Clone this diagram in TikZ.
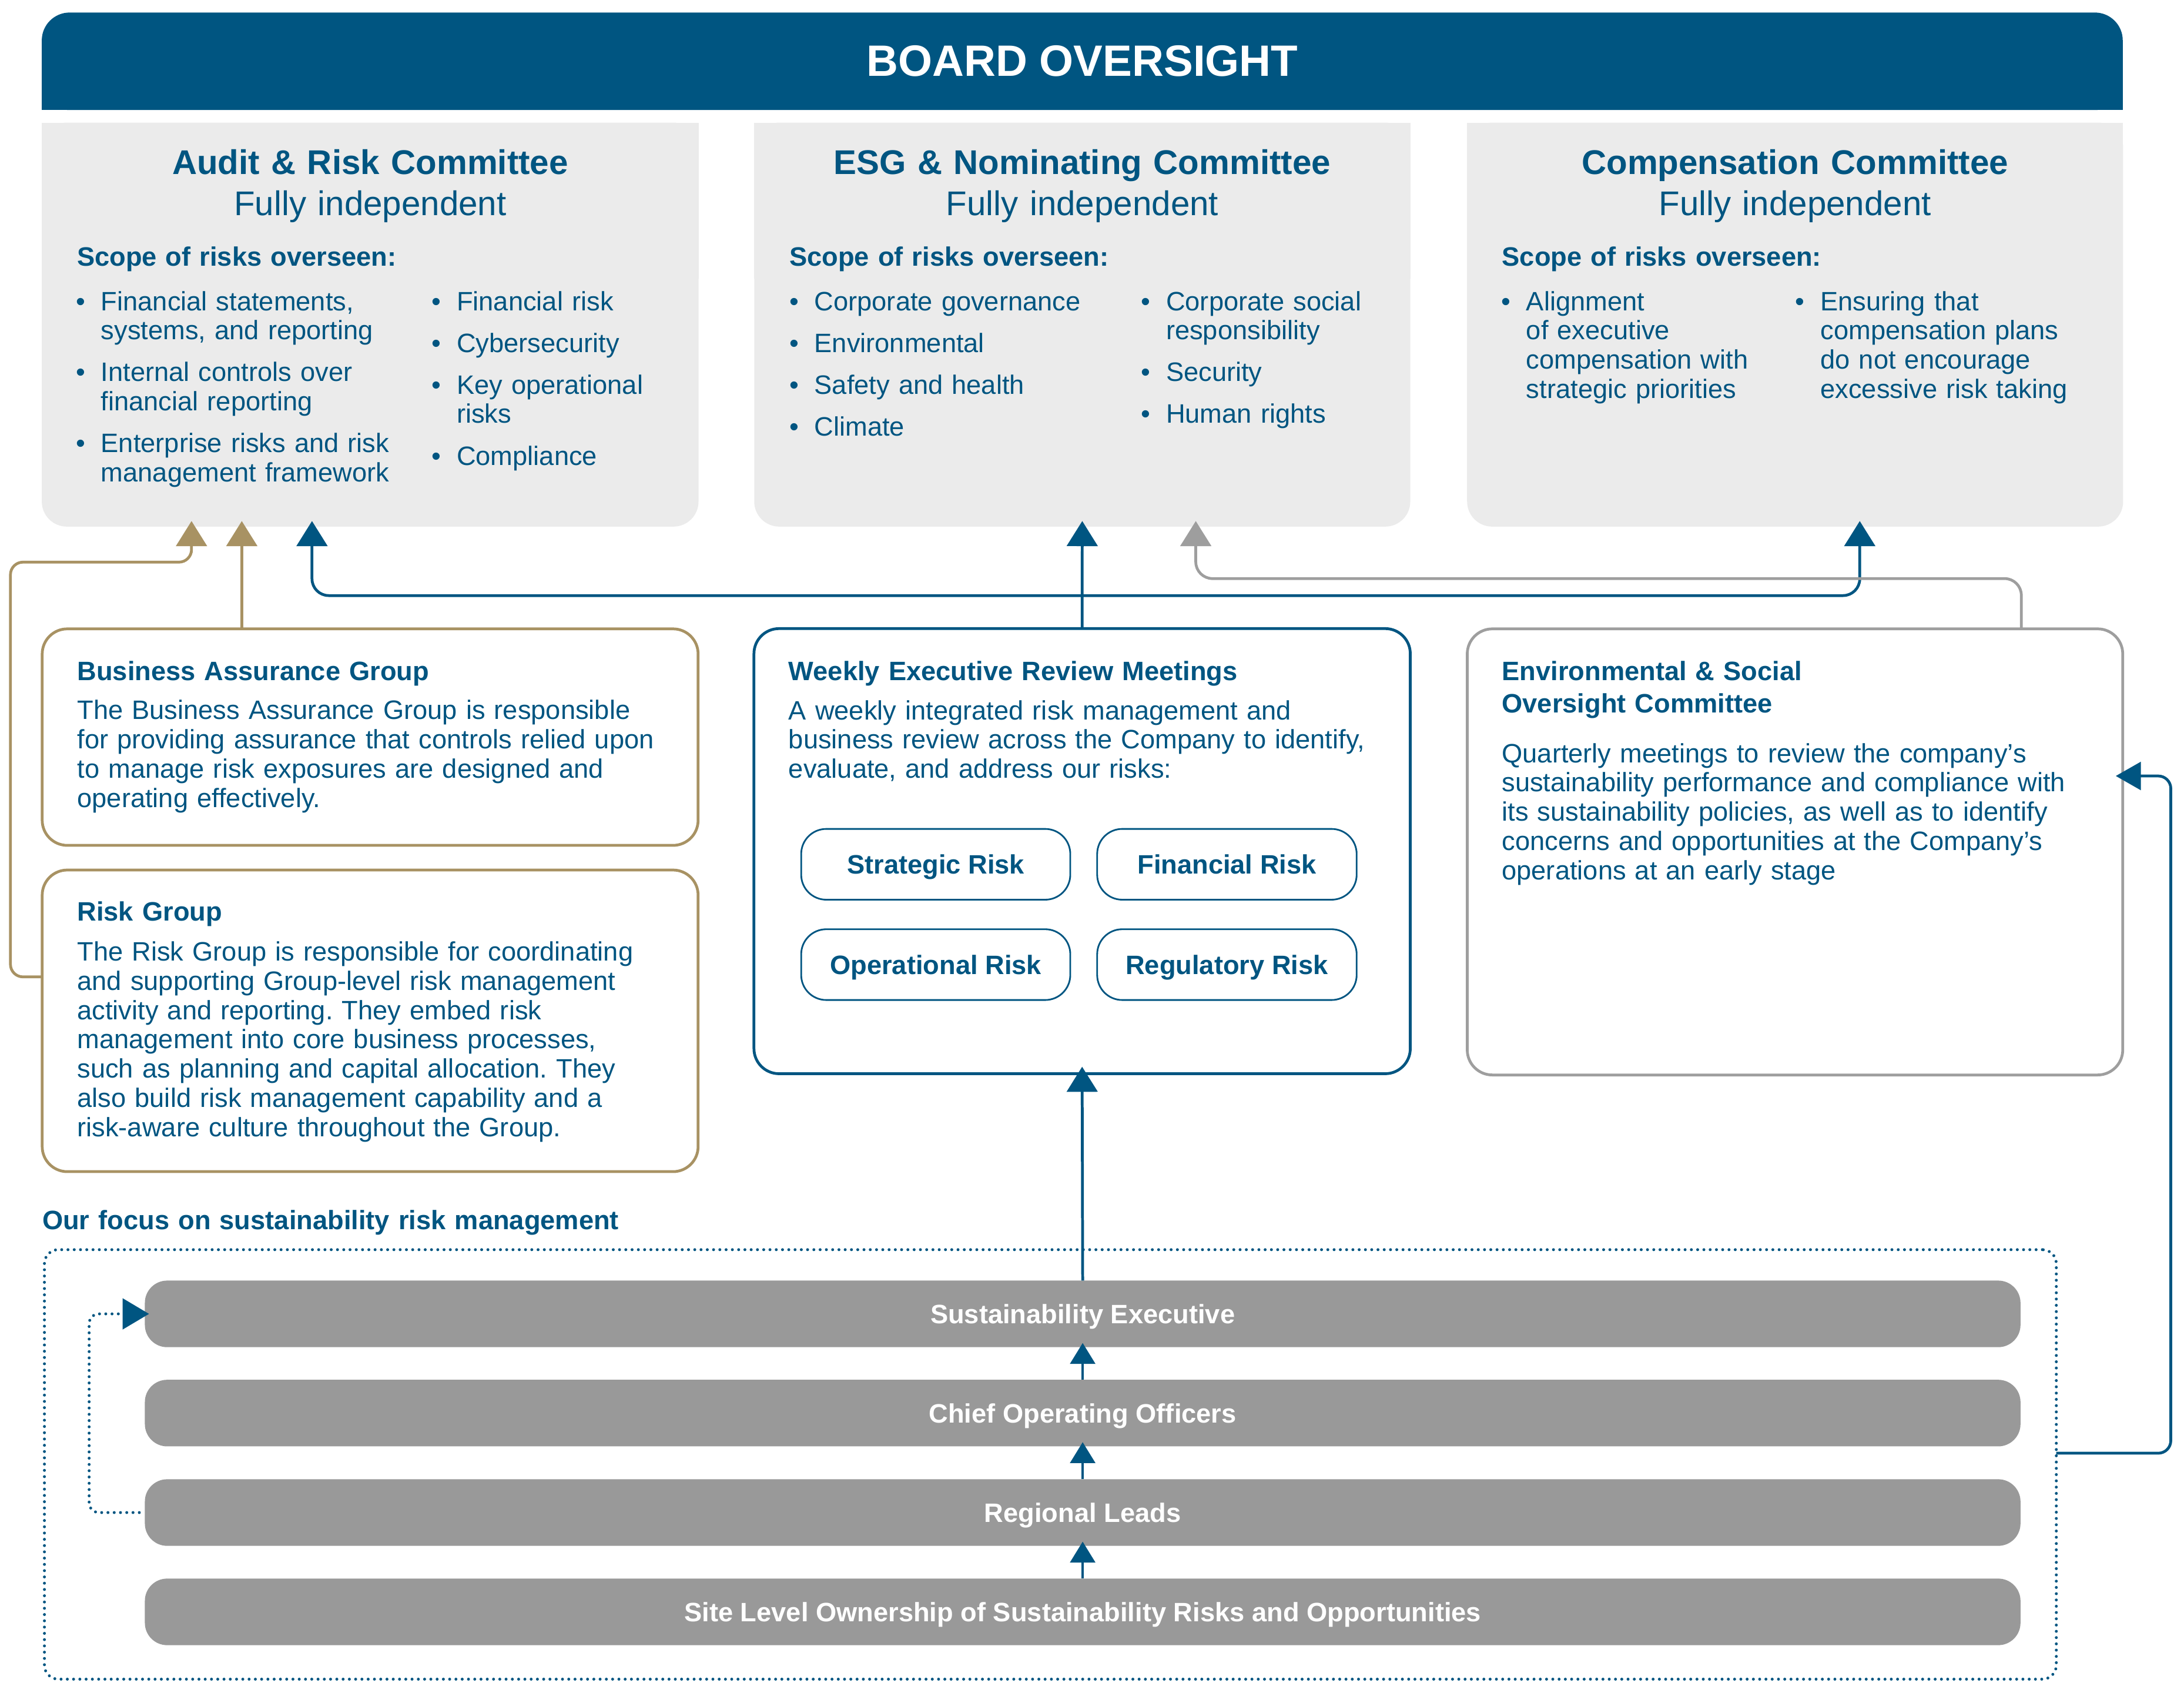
\documentclass[tikz,border=0pt]{standalone}
\usepackage{fontspec}
\setmainfont{Liberation Sans}
\usetikzlibrary{arrows.meta,calc}
\definecolor{dblue}{RGB}{0,85,129}
\definecolor{tanc}{RGB}{168,146,99}
\definecolor{lgrey}{RGB}{235,235,235}
\definecolor{bgrey}{RGB}{153,153,153}
\definecolor{mgrey}{RGB}{158,158,158}
\newcommand{\bodyfont}{\fontsize{19.1}{21}\selectfont}
\newcommand{\headfont}{\fontsize{24.6}{29.6}\selectfont}
\newcommand{\bitem}{\makebox[18pt][l]{\textbullet}}
\newcommand{\bind}{\hspace*{18pt}}
\frenchspacing
\begin{document}
\begin{tikzpicture}[x=1pt,y=-1pt,
  txt/.style={anchor=base west, inner sep=0pt, outer sep=0pt, align=left, text width=470pt, font=\bodyfont, text=dblue},
  btxt/.style={txt, font=\bodyfont\bfseries},
  head/.style={anchor=base, inner sep=0pt, outer sep=0pt, align=center, text width=460pt, font=\headfont, text=dblue},
  panel/.style={inner sep=0pt, outer sep=0pt, anchor=north west, line width=2pt, rounded corners=18pt},
  tanbox/.style={panel, draw=tanc},
  bluebox/.style={panel, draw=dblue},
  greybox/.style={panel, draw=mgrey},
  riskbtn/.style={draw=dblue, line width=1.2pt, rounded corners=18pt, inner sep=0pt, outer sep=0pt, anchor=north west,
     minimum height=50.8pt, font=\bodyfont\bfseries, text=dblue, text height=14pt, text depth=0pt},
  bar/.style={fill=bgrey, rounded corners=16pt, inner sep=0pt, outer sep=0pt, anchor=north west,
     minimum width=1346.6pt, minimum height=47.8pt, font=\bodyfont\bfseries, text=white, text height=14pt, text depth=0pt},
  blueln/.style={draw=dblue, line width=2pt, -{Triangle[width=22pt,length=18pt]}},
  tanln/.style={draw=tanc, line width=2pt, -{Triangle[width=22pt,length=18pt]}},
  greyln/.style={draw=mgrey, line width=2pt, -{Triangle[width=22pt,length=18pt]}},
  smallarr/.style={draw=dblue, line width=1.6pt, -{Triangle[width=18pt,length=15pt]}},
  dotted line/.style={draw=dblue, line width=2.1pt, line cap=round, dash pattern=on 0pt off 4.5pt},
  dotln/.style={dotted line, -{Triangle[width=22pt,length=19pt]}},
]
\useasboundingbox (0,0) rectangle (1568,1215.2);

% ---------- Board banner ----------
\fill[dblue, rounded corners=20pt] (30,9) rectangle (1524,79);
\fill[dblue] (30,45) rectangle (1524,79);
\node[inner sep=0pt, text=white, font=\fontsize{31.5}{36}\selectfont\bfseries] (board) at (777,44) {BOARD OVERSIGHT};

% ---------- Committee panels ----------
\foreach \xa/\xb in {30/501.5, 541.5/1012.5, 1053.3/1524.3}{
  \fill[lgrey, rounded corners=18pt] (\xa,88) rectangle (\xb,378);
  \fill[lgrey] (\xa,88) rectangle (\xb,200);
}
\node[head] (audh) at (265.8,125) {\textbf{Audit \& Risk Committee}\\Fully independent};
\node[head] (esgh) at (777,125) {\textbf{ESG \& Nominating Committee}\\Fully independent};
\node[head] (comh) at (1288.7,125) {\textbf{Compensation Committee}\\Fully independent};

\node[btxt] (auds) at (55.3,191) {Scope of risks overseen:};
\node[btxt] (esgs) at (566.8,191) {Scope of risks overseen:};
\node[btxt] (coms) at (1078.4,191) {Scope of risks overseen:};

\node[txt] (audl) at (54.5,222.8) {\bitem Financial statements,\\ \bind systems, and reporting\\[9pt]
  \bitem Internal controls over\\ \bind financial reporting\\[9pt]
  \bitem Enterprise risks and risk\\ \bind management framework};
\node[txt] (audr) at (309.9,222.8) {\bitem Financial risk\\[9pt] \bitem Cybersecurity\\[9pt]
  \bitem Key operational\\ \bind risks\\[9pt] \bitem Compliance};
\node[txt] (esgl) at (566.7,222.8) {\bitem Corporate governance\\[9pt] \bitem Environmental\\[9pt]
  \bitem Safety and health\\[9pt] \bitem Climate};
\node[txt] (esgr) at (819.2,222.8) {\bitem Corporate social\\ \bind responsibility\\[9pt]
  \bitem Security\\[9pt] \bitem Human rights};
\node[txt] (coml) at (1077.8,222.8) {\bitem Alignment\\ \bind of executive\\ \bind compensation with\\ \bind strategic priorities};
\node[txt] (comr) at (1289,222.8) {\bitem Ensuring that\\ \bind compensation plans\\ \bind do not encourage\\ \bind excessive risk taking};

% arrow targets on committee panels
\coordinate (auA) at (137.5,374);
\coordinate (auB) at (173.6,374);
\coordinate (auC) at (224,374);
\coordinate (esA) at (777,374);
\coordinate (esB) at (858.5,374);
\coordinate (coA) at (1335.2,374);

% ---------- Middle row boxes ----------
\node[tanbox, minimum width=470.9pt, minimum height=155.4pt] (ba) at (30.3,451.4) {};
\node[btxt] (bat) at (55.5,488.3) {Business Assurance Group};
\node[txt] (bab) at (55.5,516.4) {The Business Assurance Group is responsible\\
for providing assurance that controls relied upon\\
to manage risk exposures are designed and\\
operating effectively.};

\node[tanbox, minimum width=470.9pt, minimum height=216.5pt] (rg) at (30.3,624.5) {};
\node[btxt] (rgt) at (55.5,660.8) {Risk Group};
\node[txt] (rgb) at (55.5,689.7) {The Risk Group is responsible for coordinating\\
and supporting Group-level risk management\\
activity and reporting. They embed risk\\
management into core business processes,\\
such as planning and capital allocation. They\\
also build risk management capability and a\\
risk-aware culture throughout the Group.};

\node[bluebox, minimum width=471.2pt, minimum height=319.5pt] (wk) at (541.3,451.2) {};
\node[btxt] (wkt) at (566.2,488.5) {Weekly Executive Review Meetings};
\node[txt] (wkb) at (566.2,516.5) {A weekly integrated risk management and\\
business review across the Company to identify,\\
evaluate, and address our risks:};
\node[riskbtn, minimum width=193.2pt] (r1) at (575.2,595) {Strategic Risk};
\node[riskbtn, minimum width=186.3pt] (r2) at (787.7,595) {Financial Risk};
\node[riskbtn, minimum width=193.2pt] (r3) at (575.2,667) {Operational Risk};
\node[riskbtn, minimum width=186.3pt] (r4) at (787.7,667) {Regulatory Risk};

\node[greybox, minimum width=470.6pt, minimum height=320.2pt] (env) at (1053.4,451.4) {};
\node[btxt, font=\fontsize{19.1}{23}\selectfont\bfseries] (envt) at (1078.3,488.5) {Environmental \& Social\\Oversight Committee};
\node[txt] (envb) at (1078.3,547.3) {Quarterly meetings to review the company’s\\
sustainability performance and compliance with\\
its sustainability policies, as well as to identify\\
concerns and opportunities at the Company’s\\
operations at an early stage};

% ---------- Sustainability focus ----------
\node[btxt] (focust) at (30.4,882.4) {Our focus on sustainability risk management};
\node[dotted line, rounded corners=10pt,
  inner sep=0pt, outer sep=0pt, anchor=north west, minimum width=1444.4pt, minimum height=308.3pt] (focus) at (31.9,897) {};
\node[bar] (s1) at (104,919.2) {Sustainability Executive};
\node[bar] (s2) at (104,990.4) {Chief Operating Officers};
\node[bar] (s3) at (104,1061.8) {Regional Leads};
\node[bar] (s4) at (104,1133.1) {Site Level Ownership of Sustainability Risks and Opportunities};

% ---------- Connectors ----------
\draw[tanln, rounded corners=9pt] (rg.west |- 0,701.2) -- (7.5,701.2) -- (7.5,403.5) -- (137.5,403.5) -- (auA);
\draw[tanln] (ba.north -| auB) -- (auB);

\draw[blueln] (wk.north) -- (esA);
\coordinate (jn) at (wk.north |- 0,427.5);
\draw[blueln, rounded corners=12pt] (jn) -- (224,427.5) -- (auC);
\draw[blueln, rounded corners=12pt] (jn) -- (1335.2,427.5) -- (coA);

\draw[greyln, rounded corners=12pt] (env.north -| 1451.2,0) -- (1451.2,415.3) -- (858.5,415.3) -- (esB);

\draw[blueln] (s1.north) -- ($(wk.south)+(0,-5)$);
\draw[smallarr] (s2.north) -- ($(s1.south)+(0,-3)$);
\draw[smallarr] (s3.north) -- ($(s2.south)+(0,-3)$);
\draw[smallarr] (s4.north) -- ($(s3.south)+(0,-3)$);

\draw[dotln, rounded corners=7pt] ($(s3.west)+(-4,0)$) -- (s3.west -| 64,0) -- (s1.west -| 64,0) -- ($(s1.west)+(3,0)$);

\draw[blueln, -{Triangle[width=20pt,length=18pt]}, rounded corners=9pt] (focus.east |- 0,1043.1) -- (1558.5,1043.1) -- (1558.5,557) -- ($(env.east |- 0,557)+(-5,0)$);
\end{tikzpicture}
\end{document}
